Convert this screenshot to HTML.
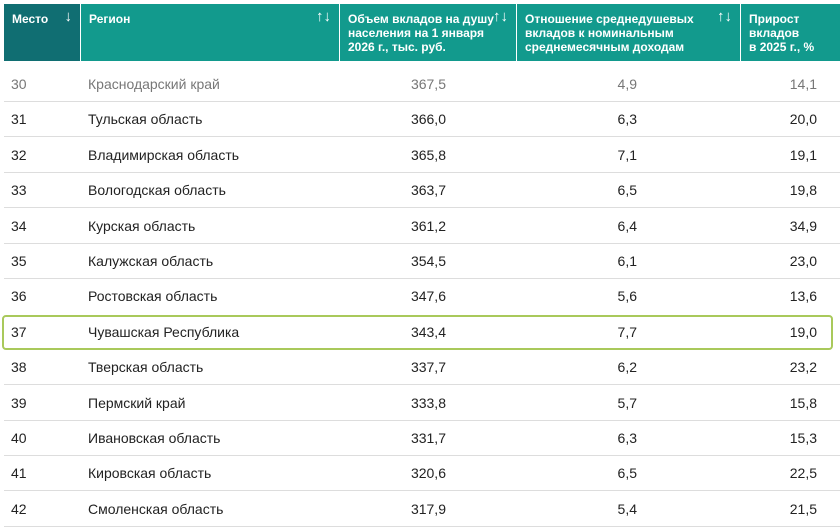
<!DOCTYPE html>
<html><head><meta charset="utf-8"><style>
body{margin:0;width:840px;height:528px;background:#fff;overflow:hidden;font-family:"Liberation Sans","Noto Sans CJK SC",sans-serif;position:relative}
.h{position:absolute;top:4px;height:57px;background:#129a8d;color:#fff;font-size:12px;font-weight:bold;line-height:14px;box-sizing:border-box;padding:8px 8px;white-space:nowrap}
.h .a{position:absolute;right:8px;top:6px;font-weight:normal;font-size:15px}
.r{position:absolute;left:4px;width:836px;height:35px;font-size:14px;color:#222;border-bottom:1px solid #ddd}
.r span{position:absolute;top:10px}
.hl{position:absolute;left:2px;top:315px;width:827px;height:31px;border:2px solid #a9c95b;border-radius:4px}
</style></head><body>
<div class="h" style="left:4px;width:76px;background:#106e72">Место<span class="a">↓</span></div>
<div class="h" style="left:81px;width:258px">Регион<span class="a">↑↓</span></div>
<div class="h" style="left:340px;width:176px">Объем вкладов на душу<br>населения на 1 января<br>2026 г., тыс. руб.<span class="a">↑↓</span></div>
<div class="h" style="left:517px;width:223px">Отношение среднедушевых<br>вкладов к номинальным<br>среднемесячным доходам<span class="a">↑↓</span></div>
<div class="h" style="left:741px;width:99px">Прирост<br>вкладов<br>в 2025 г., %</div>
<div id="rows"></div>
<script>
var d=[["30","Краснодарский край","367,5","4,9","14,1"],["31","Тульская область","366,0","6,3","20,0"],["32","Владимирская область","365,8","7,1","19,1"],["33","Вологодская область","363,7","6,5","19,8"],["34","Курская область","361,2","6,4","34,9"],["35","Калужская область","354,5","6,1","23,0"],["36","Ростовская область","347,6","5,6","13,6"],["37","Чувашская Республика","343,4","7,7","19,0"],["38","Тверская область","337,7","6,2","23,2"],["39","Пермский край","333,8","5,7","15,8"],["40","Ивановская область","331,7","6,3","15,3"],["41","Кировская область","320,6","6,5","22,5"],["42","Смоленская область","317,9","5,4","21,5"]];
var h="";
d.forEach(function(r,i){var t=66+i*35.4;var c=i==0?"color:#777;":"";
h+='<div class="r" style="top:'+t+'px;'+c+(i==6||i==7?'border-bottom:none;':'')+'"><span style="left:7px">'+r[0]+'</span><span style="left:84px">'+r[1]+'</span><span style="right:394px">'+r[2]+'</span><span style="right:203px">'+r[3]+'</span><span style="right:23px">'+r[4]+'</span></div>';});
document.getElementById("rows").innerHTML=h+'<div class="hl"></div>';
</script>
</body></html>
